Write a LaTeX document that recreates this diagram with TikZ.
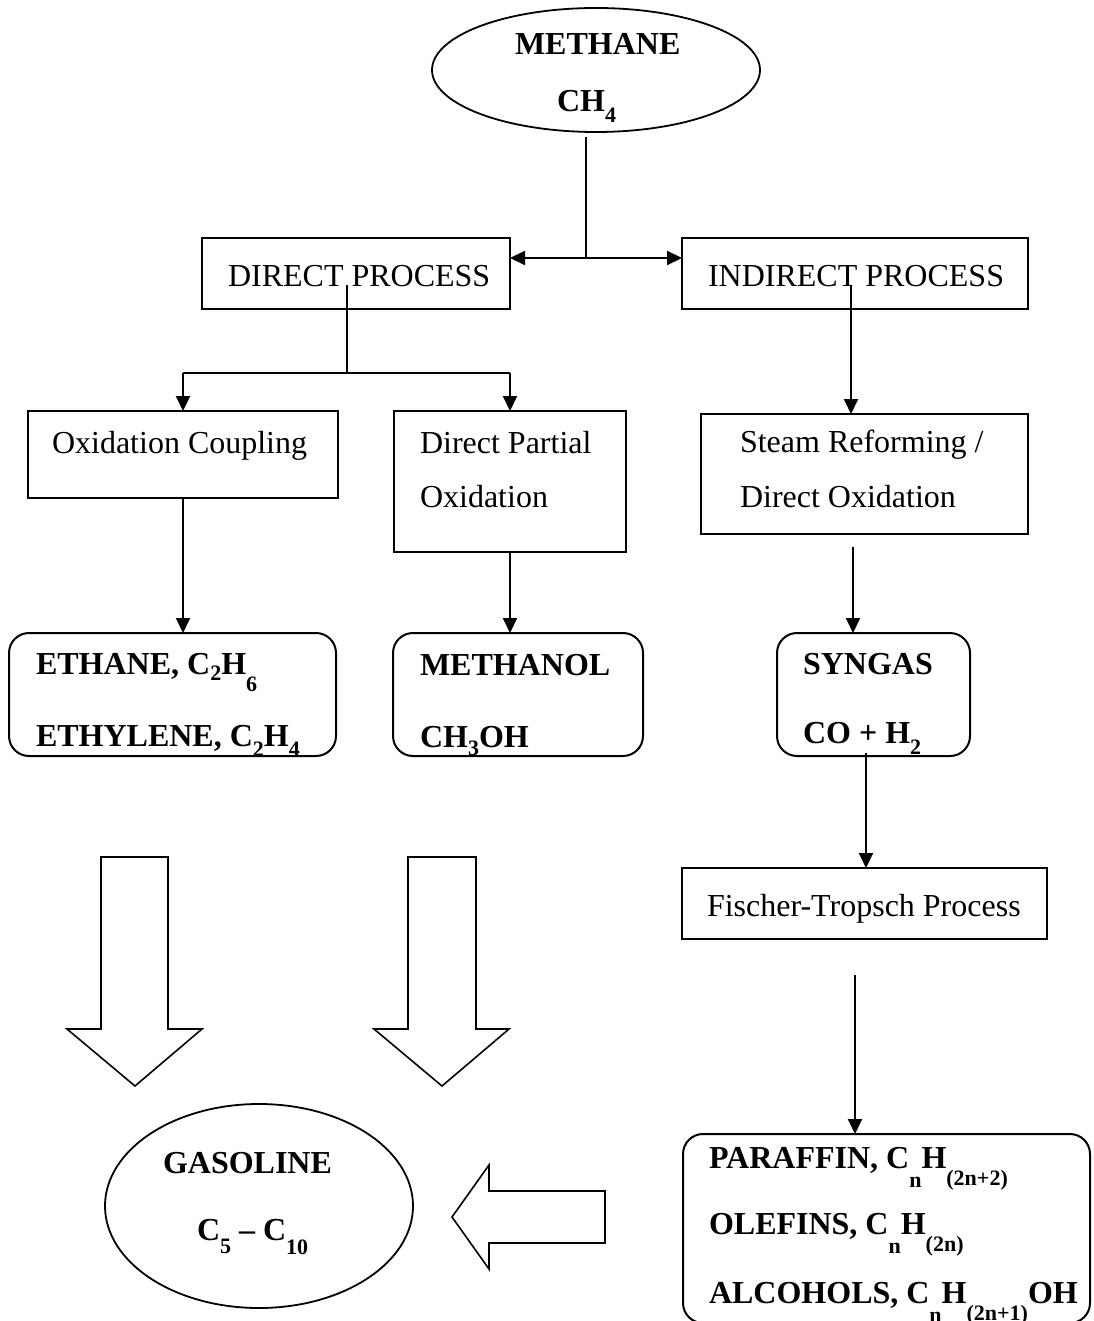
\documentclass[tikz,border=0pt]{standalone}
\usepackage{fontspec}
\setmainfont{Liberation Serif}
\usetikzlibrary{arrows.meta,shapes.geometric}
\newcommand\sbx[2][10]{\raisebox{-#1pt}{\fontsize{22}{22}\selectfont #2}}
\begin{document}
\begin{tikzpicture}[x=1pt,y=-1pt,
  every node/.style={font=\fontsize{32}{38}\selectfont, inner sep=0pt, outer sep=0pt},
  box/.style={draw, line width=2pt, rectangle},
  rbox/.style={box, rounded corners=20pt},
  oval/.style={draw, line width=1.8pt, ellipse},
  txt/.style={anchor=base west},
  btxt/.style={anchor=base west, font=\fontsize{32}{38}\selectfont\bfseries},
  conn/.style={line width=2pt},
  arr/.style={conn, -{Triangle[length=15pt,width=14pt]}},
  darr/.style={conn, {Triangle[length=15pt,width=14pt]}-{Triangle[length=15pt,width=14pt]}},
  blockarrow/.style={draw, line width=1.6pt, line join=miter}]
\useasboundingbox (0,0) rectangle (1093,1321);
\fill[white] (0,0) rectangle (1093,1321);

% shapes
\node[oval, minimum width=328pt, minimum height=124pt] (methane) at (596,70) {};
\node[box, minimum width=308pt, minimum height=71pt] (direct) at (356,273.5) {};
\node[box, minimum width=346pt, minimum height=71pt] (indirect) at (855,273.5) {};
\node[box, minimum width=310pt, minimum height=87pt] (oxc) at (183,454.5) {};
\node[box, minimum width=232pt, minimum height=141pt] (dpo) at (510,481.5) {};
\node[box, minimum width=327pt, minimum height=120pt] (steam) at (864.5,474) {};
\node[rbox, minimum width=327pt, minimum height=123pt] (ethane) at (172.5,694.5) {};
\node[rbox, minimum width=250pt, minimum height=123pt] (methanol) at (518,694.5) {};
\node[rbox, minimum width=193pt, minimum height=123pt] (syngas) at (873.5,694.5) {};
\node[box, minimum width=365pt, minimum height=71pt] (ft) at (864.5,903.5) {};
\node[rbox, minimum width=407pt, minimum height=189pt] (products) at (886.5,1228.5) {};
\node[oval, minimum width=308pt, minimum height=204pt] (gasoline) at (259,1206) {};

% texts
\node[btxt] (tmeth1) at (515,55) {METHANE};
\node[btxt] (tmeth2) at (557,112) {CH\sbx[11]{4}};
\node[txt] (tdirect) at (228,287) {DIRECT PROCESS};
\node[txt] (tindirect) at (708,287) {INDIRECT PROCESS};
\node[txt] (toxc) at (52,453) {Oxidation Coupling};
\node[txt] (tdpo1) at (420,453) {Direct Partial};
\node[txt] (tdpo2) at (420,507) {Oxidation};
\node[txt] (tst1) at (740,452) {Steam Reforming /};
\node[txt] (tst2) at (740,507) {Direct Oxidation};
\node[btxt] (teth1) at (36,674) {ETHANE, C\sbx[6]{2}H\sbx[17]{6}};
\node[btxt] (teth2) at (36,746) {ETHYLENE, C\sbx[10]{2}H\sbx[10]{4}};
\node[btxt] (tmol1) at (420,675) {METHANOL};
\node[btxt] (tmol2) at (420,747) {CH\sbx[8]{3}OH};
\node[btxt] (tsyn1) at (803,674) {SYNGAS};
\node[btxt] (tsyn2) at (803,743) {CO + H\sbx[11]{2}};
\node[txt] (tft) at (707,916) {Fischer-Tropsch Process};
\node[btxt] (tpr1) at (709,1168) {PARAFFIN, C\sbx[19]{n}H\sbx[17]{(2n+2)}};
\node[btxt] (tpr2) at (709,1234) {OLEFINS, C\sbx[19]{n}H\sbx[17]{(2n)}};
\node[btxt] (tpr3) at (709,1303) {ALCOHOLS, C\sbx[19]{n}H\sbx[17]{(2n+1)}OH};
\node[btxt] (tgas1) at (163,1173) {GASOLINE};
\node[btxt] (tgas2) at (197,1240) {C\sbx[13]{5} -- C\sbx[14]{10}};

% connectors
\coordinate (mtop) at (586,137);
\coordinate (mj) at (586,258);
\draw[conn] (mtop) -- (mj);
\draw[darr] (direct.east |- mj) -- (indirect.west |- mj);

\coordinate (dstart) at (347,285);
\coordinate (dj) at (347,373);
\draw[conn] (dstart) -- (dj);
\draw[conn] (oxc.north |- dj) -- (dpo.north |- dj);
\draw[arr] (oxc.north |- dj) -- (oxc.north);
\draw[arr] (dpo.north |- dj) -- (dpo.north);

\coordinate (istart) at (851,285);
\draw[arr] (istart) -- (istart |- steam.north);

\draw[arr] (oxc.south) -- (oxc.south |- ethane.north);
\draw[arr] (dpo.south) -- (dpo.south |- methanol.north);

\coordinate (sstart) at (853,547);
\draw[arr] (sstart) -- (sstart |- syngas.north);

\coordinate (gstart) at (866,753);
\draw[arr] (gstart) -- (gstart |- ft.north);

\coordinate (fstart) at (855,975);
\draw[arr] (fstart) -- (fstart |- products.north);

% block arrows
\draw[blockarrow] (101,857) -- (168,857) -- (168,1029) -- (202,1029) -- (135,1086) -- (67,1029) -- (101,1029) -- cycle;
\draw[blockarrow] (408,857) -- (476,857) -- (476,1029) -- (509,1029) -- (442,1086) -- (374,1029) -- (408,1029) -- cycle;
\draw[blockarrow] (605,1191) -- (605,1243) -- (489,1243) -- (489,1269) -- (452,1217) -- (489,1165) -- (489,1191) -- cycle;
\end{tikzpicture}
\end{document}
